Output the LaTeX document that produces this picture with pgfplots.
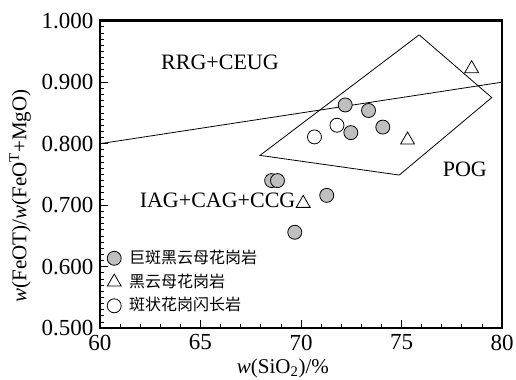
\documentclass[border=0pt]{standalone}
\usepackage{fontspec}
\setmainfont{Liberation Serif}
\newfontfamily\cjk{Noto Sans CJK SC}
\usepackage{pgfplots}
\pgfplotsset{compat=1.18}
\begin{document}
\fontsize{22}{26}\selectfont
\begin{tikzpicture}
\begin{axis}[
  scale only axis, width=402pt, height=307.5pt,
  xmin=60, xmax=80, ymin=0.5, ymax=1.0,
  xtick={60,65,70,75,80},
  ytick={0.5,0.6,0.7,0.8,0.9,1.0},
  minor x tick num=4, minor y tick num=9,
  tick align=inside, xtick pos=bottom, ytick pos=left,
  major tick length=8pt, minor tick length=4pt,
  axis line style={line width=2.5pt},
  tick style={line width=0.8pt, black},
  /pgf/number format/assume math mode=true,
  yticklabel={\pgfmathprintnumber[fixed, fixed zerofill, precision=3]{\tick}},
  xticklabel={\pgfmathprintnumber[fixed, precision=0]{\tick}},
  xticklabel style={font=\fontsize{23}{26}\selectfont, yshift=1pt},
  yticklabel style={font=\fontsize{23}{26}\selectfont, xshift=1pt},
  xlabel={\textit{w}(SiO\textsubscript{2})/\%},
  xlabel style={at={(axis description cs:0.455,-0.075)}, anchor=north},
  ylabel={\textit{w}(FeOT)/\textit{w}(FeO\textsuperscript{T}+MgO)},
  ylabel style={at={(axis description cs:-0.199,0.43)}, anchor=center},
  label style={font=\fontsize{21}{25}\selectfont},
  legend style={at={(rel axis cs:0.015,0.265)}, anchor=north west, draw=none, fill=none,
    font=\cjk\fontsize{16}{18}\selectfont, inner sep=1pt, row sep=3pt},
  legend cell align=left,
  /tikz/every odd column/.append style={column sep=6pt},
]
% discrimination boundary and POG field
\addplot[black, line width=0.8pt, forget plot] coordinates {(60,0.800) (80,0.900)};
\addplot[black, line width=0.8pt, forget plot] coordinates {
  (75.88,0.977) (79.49,0.875) (74.89,0.749) (67.96,0.781) (75.88,0.977)};

% samples
\addplot[only marks, mark=*, mark size=7pt, mark options={fill=gray!50, draw=black, line width=0.8pt}]
  coordinates {(72.20,0.863) (73.36,0.854) (72.48,0.818) (74.07,0.827)
               (68.54,0.740) (68.83,0.740) (71.28,0.716) (69.69,0.656)};
\addlegendentry{巨斑黑云母花岗岩}
\addplot[only marks, mark=triangle, mark size=8pt, mark options={draw=black, line width=0.8pt}]
  coordinates {(78.49,0.922) (75.30,0.806) (70.11,0.703)};
\addlegendentry{黑云母花岗岩}
\addplot[only marks, mark=o, mark size=7pt, mark options={draw=black, line width=0.8pt}]
  coordinates {(70.67,0.811) (71.79,0.830)};
\addlegendentry{斑状花岗闪长岩}

\node at (axis cs:65.97,0.933) {RRG+CEUG};
\node at (axis cs:78.15,0.758) {POG};
\node at (axis cs:65.85,0.708) {IAG+CAG+CCG};
\end{axis}
\pgfresetboundingbox
\path (-100pt,-51pt) rectangle (416pt,328.2pt);
\end{tikzpicture}
\end{document}
